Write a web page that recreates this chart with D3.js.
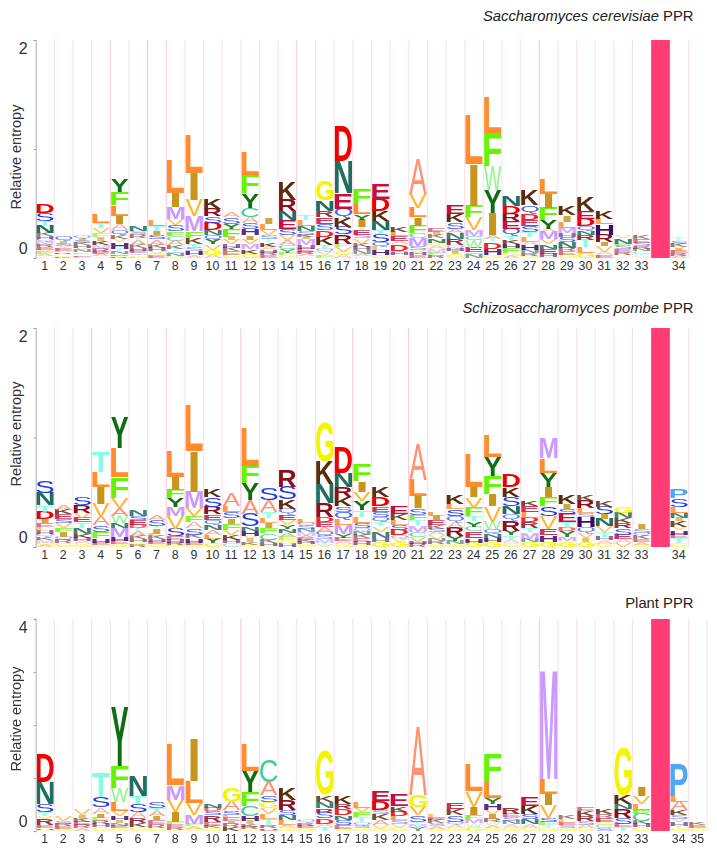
<!DOCTYPE html>
<html>
<head><meta charset="utf-8"><style>body{margin:0;background:#fff}</style></head>
<body>
<svg id="svg" width="717" height="856"></svg>
<script src="https://cdn.jsdelivr.net/npm/d3@7"></script>
<script>

var positions = d3.range(1, 34).map(String).concat(["gap", "34"]);
var positionsPlant = positions.concat(["35"]);

// letters top to bottom in each column, heights in the same order
var cerLetters = ["DSTNKHQMREVFAG","QISVEFRAGK","QISKHVNLAEF","LTVFIKMREAG","YFLIAQKVHTNEGR","NSRTAKHEQGF","LTISAKHVGE","LIMVSFCAKTQNG","LIVMFKTSHA","KRSDNQYVGA","ASYFIVHKEG","LFYCASHIVMKG","ILVSTKAHRE","KRNESVACYFG","TLNSKIMHERAG","GNRESDKTQVF","DNEQKSRFVGA","FLYITESVKHNAG","EDKNTSQLHG","KLEADQHVG","AVLIFCMSVHE","EIKNGAMFR","EKSANRQHIG","LIFVMCWEQN","LFWYIATDHG","NDREQTKHFGA","KQDESTLAHNRG","LIFYAMVNEHG","KILMHSNREG","KEDQNRTLG","KLHRIVAE","VNFSERAG","KESRNCTAG","TSKVIERA"];
var cerHeights = [[.083,.075,.045,.065,.03,.025,.03,.02,.025,.025,.02,.02,.02,.015],[.04,.02,.025,.02,.02,.015,.015,.015,.01,.013],[.03,.025,.02,.02,.02,.02,.02,.015,.015,.015,.01],[.085,.043,.05,.036,.036,.04,.03,.03,.022,.02,.015],[.116,.122,.098,.076,.055,.05,.03,.033,.06,.03,.02,.015,.01,.01],[.052,.025,.035,.03,.04,.03,.025,.02,.018,.013,.012],[.06,.043,.04,.04,.05,.03,.03,.02,.02,.02],[.31,.128,.107,.055,.06,.04,.05,.04,.035,.02,.02,.02,.02],[.346,.25,.15,.138,.06,.055,.037,.03,.04,.024],[.092,.07,.06,.067,.046,.046,.04,.05,.045,.03],[.05,.06,.05,.07,.03,.04,.035,.03,.03,.03],[.205,.175,.13,.083,.055,.06,.055,.04,.043,.045,.04,.04],[.06,.055,.045,.035,.03,.04,.03,.025,.025,.025],[.16,.1,.083,.076,.06,.04,.05,.04,.03,.025,.024],[.046,.055,.046,.03,.02,.025,.055,.03,.03,.02,.02,.015],[.183,.098,.06,.06,.06,.055,.076,.037,.03,.03,.024],[.318,.3,.138,.086,.083,.07,.086,.03,.04,.03,.029],[.14,.09,.05,.065,.03,.04,.035,.05,.03,.03,.03,.025,.015],[.138,.113,.092,.08,.037,.076,.04,.03,.046,.027],[.052,.04,.04,.03,.06,.02,.02,.015,.013],[.32,.128,.09,.076,.07,.046,.07,.035,.025,.025,.025],[.03,.03,.03,.04,.03,.03,.03,.025,.025],[.086,.076,.06,.037,.055,.06,.03,.02,.03,.036],[.44,.382,.107,.116,.055,.037,.07,.04,.02,.033],[.33,.306,.22,.208,.2,.037,.03,.06,.06,.026],[.098,.07,.067,.07,.067,.037,.04,.037,.046,.025,.018],[.147,.076,.06,.052,.055,.046,.046,.03,.046,.03,.025,.017],[.138,.128,.116,.076,.03,.07,.043,.04,.046,.03,.011],[.083,.06,.06,.046,.03,.046,.06,.03,.03,.03],[.13,.07,.07,.037,.04,.046,.067,.055,.045],[.07,.052,.095,.067,.037,.055,.03,.024],[.02,.05,.02,.03,.025,.025,.015,.015],[.03,.03,.03,.025,.025,.02,.015,.015,.01],[.03,.025,.03,.02,.02,.02,.02,.022]];

var pomLetters = ["SNTDIELHQKMGA","AKESVFIQRG","SRVETNKHAG","TLIVASFHEG","YLFVAWNMHEG","NSEDTAKHGR","ASTILKHEG","LIFYMVSEHRG","LIMVFASKHEG","KSREQNALYG","ALSIFVKHC","LFYASNHVIKG","SATLIFCKHG","RSKQEVYNAFGH","LQSNMAEKHG","GKNRDEAQSMTV","DNRKSQLMYEAG","FIVYTLSQNKEHG","KDESQTVNHG","EKLSDQVG","ALISFTMCVHR","LIEKSAVNRG","KLSQARYNG","LIVFTYCEHG","LYFIVWQNHG","DKSNQRYTAG","KELDRTMNG","MLYIFSVEHG","KISETDYMG","KRLSHQVIG","KSINVTHAG","GNKRSEAV","ISQKEAG","PSLNIKVHETG"];
var pomHeights = [[.11,.113,.06,.07,.037,.035,.03,.03,.03,.025,.025,.02,.02],[.04,.043,.04,.037,.046,.04,.04,.03,.03,.034],[.07,.07,.043,.04,.05,.055,.037,.03,.03,.025],[.19,.144,.147,.122,.076,.06,.06,.04,.025,.014],[.28,.266,.193,.09,.067,.07,.046,.076,.037,.03,.028],[.058,.04,.04,.03,.03,.04,.03,.025,.025,.022],[.04,.055,.02,.05,.02,.03,.025,.02,.024],[.23,.122,.076,.076,.083,.116,.07,.03,.03,.02,.017],[.42,.367,.153,.067,.06,.055,.06,.03,.04,.021,.02],[.073,.086,.067,.05,.05,.046,.04,.037,.04,.037],[.116,.052,.06,.052,.06,.04,.046,.03,.034],[.352,.16,.147,.128,.116,.037,.046,.03,.03,.024,.02],[.107,.107,.06,.046,.046,.046,.06,.03,.02,.013],[.153,.116,.083,.052,.05,.046,.037,.04,.037,.03,.03,.029],[.037,.03,.03,.03,.03,.02,.02,.02,.02,.023],[.36,.208,.174,.128,.046,.046,.04,.04,.03,.03,.02,.02],[.232,.128,.092,.086,.052,.067,.055,.076,.037,.03,.03,.025],[.156,.098,.086,.083,.06,.06,.046,.03,.03,.03,.03,.03,.019],[.092,.085,.05,.046,.046,.04,.05,.06,.03,.05],[.067,.055,.04,.046,.052,.03,.03,.047],[.33,.147,.113,.06,.046,.046,.06,.046,.046,.02,.028],[.037,.04,.046,.03,.03,.03,.03,.025,.025,.027],[.076,.046,.064,.052,.052,.08,.043,.03,.025],[.306,.092,.098,.08,.043,.05,.046,.06,.04,.041],[.196,.17,.165,.11,.144,.064,.043,.04,.04,.043],[.12,.086,.086,.073,.055,.098,.04,.04,.03,.036],[.05,.052,.052,.04,.052,.04,.06,.03,.044],[.19,.13,.128,.092,.086,.09,.116,.058,.06,.05],[.086,.046,.046,.076,.052,.03,.055,.04,.052],[.06,.07,.046,.03,.092,.06,.046,.03,.049],[.055,.067,.04,.07,.052,.046,.03,.03,.03],[.06,.052,.046,.046,.06,.04,.03,.039],[.04,.03,.03,.03,.025,.025,.02],[.086,.076,.052,.046,.034,.052,.03,.04,.03,.05,.033]];

var plantLetters = ["DNSTVREHG","VSREG","VIKERA","TSAIFRHG","YFWLVHINEG","NTSARKG","STAIERG","LMVIFERG","ILVMFAG","NDSREKG","GASLEIRK","LYFCHIKRG","CASGVLTRHE","KRSNLAG","QREG","GKNRSDAT","KRDNSEG","LVFTQSG","EDSKAVG","EKDLSVG","AGVSTMY","LEKSAG","EKSQAG","LVIFMWG","FLYHVIRWAG","RESNAG","EKSNAG","MLIVSFTG","KLESG","EKRSAG","KREGCS","GKNRSET","IVLFCKHG","PLAKSVHTG","KEG"];
var plantHeights = [[.536,.41,.158,.082,.05,.12,.05,.03,.028],[.088,.05,.05,.05,.04],[.126,.063,.06,.06,.06,.054],[.473,.19,.126,.076,.06,.06,.06,.072],[1.11,.423,.252,.177,.095,.076,.05,.05,.05,.052],[.385,.139,.158,.114,.095,.08,.069],[.114,.076,.082,.076,.07,.07,.062],[.77,.27,.233,.19,.044,.05,.05,.027],[.808,.404,.24,.158,.05,.05,.038],[.082,.063,.076,.126,.07,.05,.05],[.27,.158,.082,.057,.063,.05,.06,.08],[.517,.397,.27,.19,.09,.06,.05,.05,.029],[.41,.252,.126,.114,.107,.095,.126,.05,.03,.027],[.227,.2,.095,.095,.095,.06,.048],[.063,.05,.05,.051],[.85,.126,.126,.076,.114,.095,.06,.08],[.139,.095,.126,.082,.107,.06,.047],[.126,.082,.095,.095,.07,.05,.05],[.19,.17,.063,.126,.095,.06,.046],[.208,.107,.082,.076,.07,.07,.062],[1.28,.22,.158,.126,.05,.06,.062],[.063,.05,.06,.05,.05,.042],[.107,.126,.126,.06,.06,.051],[.51,.297,.145,.076,.082,.07,.082],[.51,.31,.114,.114,.076,.1,.06,.06,.05,.056],[.114,.07,.06,.07,.07,.056],[.177,.139,.095,.1,.07,.062],[2.063,.284,.22,.233,.082,.06,.06,.048],[.06,.06,.05,.05,.058],[.07,.09,.09,.07,.06,.06],[.09,.07,.08,.05,.06,.054],[.927,.158,.095,.17,.114,.06,.076],[.164,.139,.114,.076,.139,.06,.06,.068],[.606,.107,.158,.095,.063,.07,.06,.05,.051],[.05,.05,.058]];

// separators drawn darker than the others, given by the position on their right
var cerDarkSeps = ["5", "7", "8", "15", "28"];
var pomDarkSeps = ["4", "8", "12", "18", "21"];
var plantDarkSeps = ["12", "28"];

var letterColors = {
  A: "#ff9174", C: "#42cc99", D: "#f00000", E: "#c80f3c", F: "#66f500", G: "#f2f500",
  H: "#3c0a64", I: "#c8961e", K: "#5a2d0f", L: "#ff8c2d", M: "#cc99ff", N: "#1f6e5f",
  P: "#50a5f5", Q: "#3c64f5", R: "#8c0f1e", S: "#1e3ce6", T: "#82ffe1", V: "#ffb432",
  W: "#8cf58c", Y: "#0f6e14"
};

// these read thin in the logos, the rest have heavy stems
var thinLetters = "AVWCQS";

var svg = d3.select("#svg");
var FONT = "'Liberation Sans', Arial, sans-serif";

// ink box of each glyph, so a letter can fill its cell exactly
var ctx = document.createElement("canvas").getContext("2d");
var ink = {};
Object.keys(letterColors).forEach(k => {
  var weight = thinLetters.indexOf(k) >= 0 ? "normal" : "bold";
  ctx.font = weight + " 100px 'Liberation Sans'";
  var m = ctx.measureText(k);
  ink[k] = {l: m.actualBoundingBoxLeft, r: m.actualBoundingBoxRight,
            a: m.actualBoundingBoxAscent, d: m.actualBoundingBoxDescent, weight: weight};
});

function drawPanel(p) {
  var slots = p.positions;
  var colW = 18.65;
  var x = d3.scaleBand().domain(slots).range([35.7, 35.7 + colW * slots.length]);
  var y = d3.scaleLinear().domain([0, p.max]).range([p.bottom, p.top]);
  var g = svg.append("g");

  // separators
  g.selectAll("line.sep").data(slots.slice(1).concat(["end"])).join("line").classed("sep", true)
    .attr("x1", d => d == "end" ? x.range()[1] : x(d))
    .attr("x2", d => d == "end" ? x.range()[1] : x(d))
    .attr("y1", y(p.max)).attr("y2", y(0))
    .style("stroke", d => p.darkSeps.indexOf(d) >= 0 ? "#f5c6d3" : "#fbe0e8")
    .style("stroke-width", 1);

  // the insertion bar
  g.append("rect")
    .attr("x", x("gap")).attr("width", x.bandwidth())
    .attr("y", y(p.max)).attr("height", y(0) - y(p.max))
    .style("fill", "#ff3d74");

  // stacks, built from the bottom up
  var cols = slots.filter(d => d != "gap");
  var cells = [];
  cols.forEach((pos, i) => {
    var run = 0;
    for (var k = p.letters[i].length - 1; k >= 0; k--) {
      cells.push({pos: pos, ch: p.letters[i][k], y0: run, y1: run + p.heights[i][k]});
      run += p.heights[i][k];
    }
  });

  g.append("g").style("filter", "blur(0.3px)")
    .selectAll("text.letter").data(cells).join("text").classed("letter", true)
    .text(d => d.ch)
    .attr("font-family", FONT).attr("font-size", 100)
    .attr("font-weight", d => ink[d.ch].weight)
    .style("fill", d => letterColors[d.ch])
    // tiny letters wash out to pale bands in the logos
    .style("fill-opacity", d => {
      var h = y(d.y0) - y(d.y1);
      return h < 4 ? 0.6 : h < 7 ? 0.85 : 1;
    })
    .attr("transform", d => {
      var m = ink[d.ch];
      var w = d.ch == "I" ? x.bandwidth() * 0.42 : x.bandwidth() - 1.2;
      var h = y(d.y0) - y(d.y1);
      var cx = x(d.pos) + x.bandwidth() / 2;
      return "translate(" + (cx - w / 2) + "," + y(d.y0) + ")" +
        " scale(" + w / (m.l + m.r) + "," + h / (m.a + m.d) + ")" +
        " translate(" + m.l + "," + (-m.d) + ")";
    });

  // y axis, end labels sit inside the axis ends
  var yAxis = d3.axisLeft(y).tickValues(p.ticks).tickSize(2).tickPadding(6)
    .tickFormat(d => (d == 0 || d == p.max) ? d : "");
  var ya = g.append("g").attr("transform", "translate(35.7,0)").call(yAxis);
  ya.select(".domain").style("stroke", p.axisColor).style("stroke-width", p.axisWidth);
  ya.selectAll(".tick line").style("stroke", "#999");
  ya.selectAll(".tick text")
    .attr("font-family", FONT).attr("font-size", 16).style("fill", "#333")
    .attr("dy", d => d == 0 ? "-0.28em" : "0.82em");

  // x axis
  var xAxis = d3.axisBottom(x).tickSize(0).tickPadding(2)
    .tickFormat(d => d == "gap" ? "" : d);
  var xa = g.append("g").attr("transform", "translate(0," + (y(0) + 1) + ")").call(xAxis);
  xa.select(".domain").remove();
  xa.selectAll(".tick text")
    .attr("font-family", FONT).attr("font-size", 12.4).style("fill", "#333")
    .attr("dx", "-0.4");

  // labels
  g.append("text")
    .attr("transform", "translate(21," + p.labelY + ") rotate(-90)")
    .attr("text-anchor", "middle")
    .attr("font-family", FONT).attr("font-size", 14.5).style("fill", "#333")
    .text("Relative entropy");

  var t = g.append("text")
    .attr("x", 693.5).attr("y", p.titleY).attr("text-anchor", "end")
    .attr("font-family", FONT).attr("font-size", 14.8).style("fill", "#222");
  if (p.titleItalic) t.append("tspan").attr("font-style", "italic").text(p.titleItalic + " ");
  t.append("tspan").text(p.title);
}

drawPanel({positions: positions, letters: cerLetters, heights: cerHeights, darkSeps: cerDarkSeps,
  max: 2, ticks: [0, 1, 2], top: 40, bottom: 258, labelY: 157, titleY: 21,
  titleItalic: "Saccharomyces cerevisiae", title: "PPR", axisColor: "#aaa", axisWidth: 1});
drawPanel({positions: positions, letters: pomLetters, heights: pomHeights, darkSeps: pomDarkSeps,
  max: 2, ticks: [0, 1, 2], top: 328, bottom: 547, labelY: 434, titleY: 313,
  titleItalic: "Schizosaccharomyces pombe", title: "PPR", axisColor: "#aaa", axisWidth: 1});
drawPanel({positions: positionsPlant, letters: plantLetters, heights: plantHeights, darkSeps: plantDarkSeps,
  max: 4, ticks: [0, 1, 2, 3, 4], top: 619, bottom: 831, labelY: 719, titleY: 608,
  titleItalic: "", title: "Plant PPR", axisColor: "#ccc", axisWidth: 1.5});

</script>
</body>
</html>
